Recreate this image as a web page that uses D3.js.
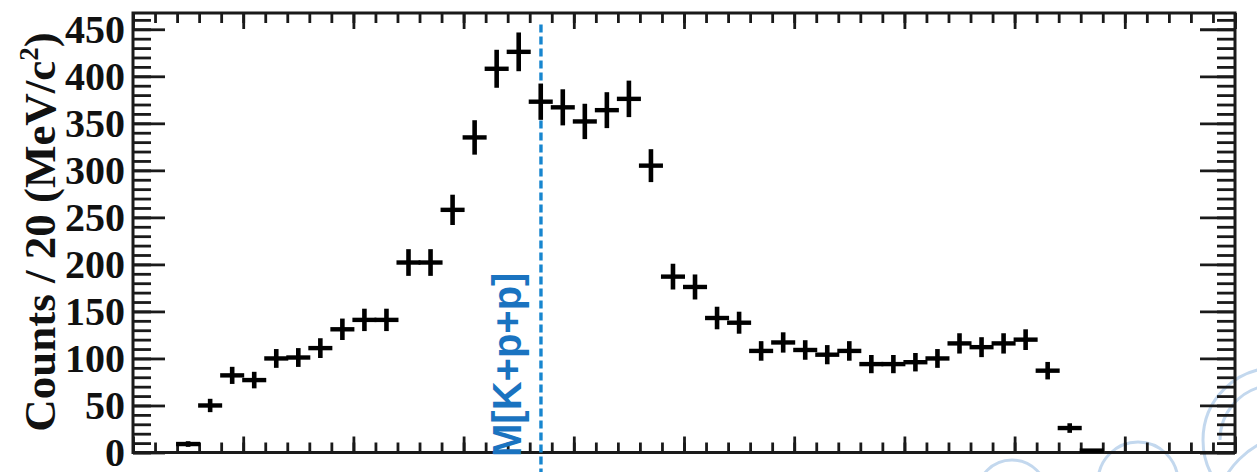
<!DOCTYPE html>
<html>
<head>
<meta charset="utf-8">
<script src="https://cdn.jsdelivr.net/npm/d3@7"></script>
<style>
  html, body { margin: 0; padding: 0; background: #fff; }
  svg { display: block; }
</style>
</head>
<body>
<div id="chart"></div>
<script>
// Invariant-mass histogram, 20 MeV/c^2 bins (bin centres in MeV/c^2)
const binCenters = [2050, 2070, 2090, 2110, 2130, 2150, 2170, 2190, 2210, 2230,
                    2250, 2270, 2290, 2310, 2330, 2350, 2370, 2390, 2410, 2430,
                    2450, 2470, 2490, 2510, 2530, 2550, 2570, 2590, 2610, 2630,
                    2650, 2670, 2690, 2710, 2730, 2750, 2770, 2790, 2810, 2830,
                    2850, 2870];
const counts = [9, 50, 82, 77, 100, 101, 111, 131, 141, 141,
                202, 202, 258, 335, 408, 426, 373, 367, 352, 364,
                376, 305, 187, 176, 143, 138, 108, 117, 109, 104,
                108, 94, 94, 96, 100, 116, 112, 116, 120, 87,
                26, 2];
const countErrors = [3.0, 7.1, 9.1, 8.8, 10.0, 10.0, 10.5, 11.4, 11.9, 11.9,
                     14.2, 14.2, 16.1, 18.3, 20.2, 20.6, 19.3, 19.2, 18.8, 19.1,
                     19.4, 17.5, 13.7, 13.3, 12.0, 11.7, 10.4, 10.8, 10.4, 10.2,
                     10.4, 9.7, 9.7, 9.8, 10.0, 10.8, 10.6, 10.8, 11.0, 9.3,
                     5.1, 1.4];
const binWidth = 20;
const massRange = [2000, 3000];
const countRange = [0, 467.3];
const yTickValues = [0, 50, 100, 150, 200, 250, 300, 350, 400, 450];
const thresholdMass = 2370.2;          // m(K) + 2 m(p)
const thresholdLabel = "M[K+p+p]";

const W = 1257, H = 472;
const plot = { left: 133, right: 1235, top: 13, bottom: 452.5 };

const svg = d3.select("#chart").append("svg")
  .attr("width", W).attr("height", H);

const x = d3.scaleLinear().domain(massRange).range([plot.left, plot.right]);
const y = d3.scaleLinear().domain(countRange).range([plot.bottom, plot.top]);

// faint background decoration in the lower-right corner
const deco = svg.append("g").attr("fill", "none")
  .attr("stroke", "#c3d8ee").attr("stroke-width", 3);
deco.append("circle").attr("cx", 1275).attr("cy", 440).attr("r", 72);
deco.append("path").attr("d", () => {
  const p = d3.path();
  p.arc(1275, 440, 55, Math.PI * 1.0, Math.PI * 1.45);
  return p.toString();
});
deco.append("circle").attr("cx", 1138).attr("cy", 482).attr("r", 40);
deco.append("circle").attr("cx", 1140).attr("cy", 494).attr("r", 18);
deco.append("circle").attr("cx", 1012).attr("cy", 495).attr("r", 35);
deco.append("circle").attr("cx", 1300).attr("cy", 520).attr("r", 86);

// tick marks on all four sides, pointing inward
const tickStroke = "#1a1a1a";
function styleAxis(g) {
  g.select(".domain").remove();
  g.selectAll(".tick line").attr("stroke", tickStroke).attr("stroke-width", 2.8);
}
const xMajor = d3.range(massRange[0], massRange[1] + 1, 100);
const xMinor = d3.range(massRange[0], massRange[1] + 1, binWidth);
const yMinor = d3.range(0, 461, 10);

svg.append("g").attr("transform", `translate(0,${plot.top})`)
  .call(d3.axisTop(x).tickValues(xMinor).tickSize(-10).tickFormat("")).call(styleAxis);
svg.append("g").attr("transform", `translate(0,${plot.top})`)
  .call(d3.axisTop(x).tickValues(xMajor).tickSize(-16).tickFormat("")).call(styleAxis);
svg.append("g").attr("transform", `translate(0,${plot.bottom})`)
  .call(d3.axisBottom(x).tickValues(xMinor).tickSize(-10).tickFormat("")).call(styleAxis);
svg.append("g").attr("transform", `translate(0,${plot.bottom})`)
  .call(d3.axisBottom(x).tickValues(xMajor).tickSize(-16).tickFormat("")).call(styleAxis);

svg.append("g").attr("transform", `translate(${plot.left},0)`)
  .call(d3.axisLeft(y).tickValues(yMinor).tickSize(-18).tickFormat("")).call(styleAxis);
svg.append("g").attr("transform", `translate(${plot.right},0)`)
  .call(d3.axisRight(y).tickValues(yMinor).tickSize(-18).tickFormat("")).call(styleAxis);
svg.append("g").attr("transform", `translate(${plot.right},0)`)
  .call(d3.axisRight(y).tickValues(yTickValues).tickSize(-35).tickFormat("")).call(styleAxis);

const yAxis = svg.append("g").attr("transform", `translate(${plot.left},0)`)
  .call(d3.axisLeft(y).tickValues(yTickValues).tickSize(-32).tickPadding(8).tickFormat(d3.format("d")))
  .call(styleAxis);
yAxis.selectAll(".tick text")
  .attr("x", -8)
  .attr("dy", "0.32em")
  .attr("fill", "#111")
  .style("font-family", "'Liberation Serif', 'Times New Roman', serif")
  .style("font-weight", "bold")
  .style("font-size", "40px");

// frame
svg.append("rect")
  .attr("x", plot.left).attr("y", plot.top)
  .attr("width", plot.right - plot.left).attr("height", plot.bottom - plot.top)
  .attr("fill", "none").attr("stroke", "#1a1a1a").attr("stroke-width", 3);

// y-axis title
const yTitle = svg.append("text")
  .attr("transform", `translate(55,232) rotate(-90)`)
  .attr("text-anchor", "middle")
  .attr("fill", "#111")
  .style("font-family", "'Liberation Serif', 'Times New Roman', serif")
  .style("font-weight", "bold")
  .style("font-size", "45px");
yTitle.append("tspan").text("Counts / 20 (MeV/c");
yTitle.append("tspan").attr("dy", -17).style("font-size", "27px").text("2");
yTitle.append("tspan").attr("dy", 17).text(")");

// threshold marker
svg.append("line")
  .attr("x1", x(thresholdMass)).attr("x2", x(thresholdMass))
  .attr("y1", y(455)).attr("y2", H)
  .attr("stroke", "#1786cf").attr("stroke-width", 3.4)
  .attr("stroke-dasharray", "8,4");
svg.append("text")
  .attr("transform", `translate(${x(thresholdMass) - 20},457) rotate(-90)`)
  .attr("text-anchor", "start")
  .attr("fill", "#1a73c0")
  .style("font-family", "'Liberation Sans', Arial, sans-serif")
  .style("font-weight", "bold")
  .style("font-size", "40px")
  .text(thresholdLabel);

// data points with error bars
const pts = binCenters.map((c, i) => ({ c, n: counts[i], e: countErrors[i] }));
const marks = svg.append("g").attr("stroke", "#000");
marks.selectAll("line.h").data(pts).join("line").attr("class", "h")
  .attr("x1", d => x(d.c - binWidth / 2) - 1).attr("x2", d => x(d.c + binWidth / 2) + 1)
  .attr("y1", d => y(d.n)).attr("y2", d => y(d.n))
  .attr("stroke-width", 4.4);
marks.selectAll("line.v").data(pts).join("line").attr("class", "v")
  .attr("x1", d => x(d.c)).attr("x2", d => x(d.c))
  .attr("y1", d => y(d.n + d.e)).attr("y2", d => y(Math.max(0, d.n - d.e)))
  .attr("stroke-width", 4.6);
</script>
</body>
</html>
